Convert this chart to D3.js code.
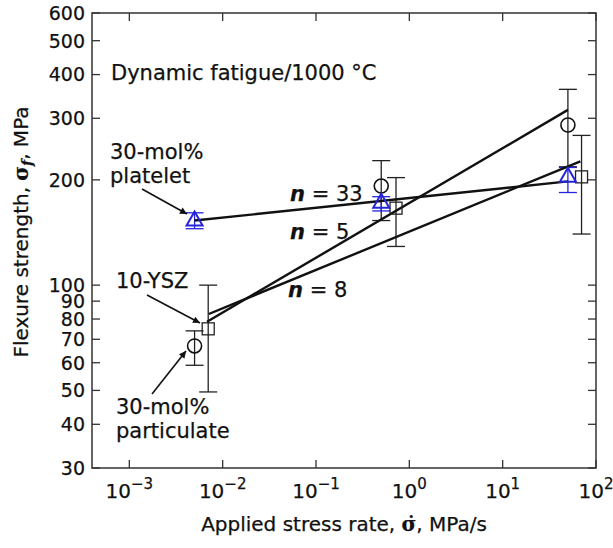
<!DOCTYPE html>
<html>
<head>
<meta charset="utf-8">
<script src="https://cdn.jsdelivr.net/npm/d3@7"></script>
<style>
  body { margin: 0; background: #fff; }
  svg text { font-family: "DejaVu Sans", sans-serif; fill: #111; stroke: #111; stroke-width: 0.25px; }
</style>
</head>
<body>
<svg id="chart"></svg>
<script>
// axis ticks
const strengthTicks = [30, 40, 50, 60, 70, 80, 90, 100, 200, 300, 400, 500, 600];
const rateTicks = [1e-3, 1e-2, 1e-1, 1, 10, 100];
const rateExponents = ["\u22123", "\u22122", "\u22121", "0", "1", "2"];

// 30-mol% particulate (circles)
const particulateRate = [0.005, 0.5, 50];
const particulateStrength = [67, 192, 287];
const particulateLow = [59, 153, 218];
const particulateHigh = [74, 227, 363];

// 10-YSZ (squares)
const yszRate = [0.007, 0.72, 70];
const yszStrength = [75, 166, 204];
const yszLow = [49.5, 129, 140];
const yszHigh = [100, 203, 268];

// 30-mol% platelet (triangles)
const plateletRate = [0.005, 0.5, 50];
const plateletStrength = [153, 172, 204];
const plateletLow = [145, 163, 184];
const plateletHigh = [161, 179, 217];

// fitted lines, end points
const fitNames = ["n33", "n5", "n8"];
const fitRates = [[0.005, 50], [0.0068, 50], [0.0071, 68]];
const fitStrengths = [[153, 198], [78.6, 317], [82.7, 226]];

const width = 613, height = 548;
const margin = {left: 92, right: 17, top: 13, bottom: 80};
const blue = "#2424dc";

const svg = d3.select("#chart").attr("width", width).attr("height", height);

const x = d3.scaleLog().domain([Math.pow(10, -3.4), 100])
            .range([margin.left, width - margin.right]);
const y = d3.scaleLog().domain([30, 600])
            .range([height - margin.bottom, margin.top]);

// frame
svg.append("rect")
   .attr("x", x.range()[0]).attr("y", y.range()[1])
   .attr("width", x.range()[1] - x.range()[0])
   .attr("height", y.range()[0] - y.range()[1])
   .attr("fill", "none").attr("stroke", "#333").attr("stroke-width", 1.5);

// inward ticks on all four sides
const tk = 8;
svg.append("g").selectAll("line").data(strengthTicks).enter().append("line")
   .attr("x1", x.range()[0]).attr("x2", x.range()[0] + tk)
   .attr("y1", d => y(d)).attr("y2", d => y(d))
   .attr("stroke", "#333").attr("stroke-width", 1.3);
svg.append("g").selectAll("line").data(strengthTicks).enter().append("line")
   .attr("x1", x.range()[1]).attr("x2", x.range()[1] - tk)
   .attr("y1", d => y(d)).attr("y2", d => y(d))
   .attr("stroke", "#333").attr("stroke-width", 1.3);
svg.append("g").selectAll("line").data(rateTicks).enter().append("line")
   .attr("x1", d => x(d)).attr("x2", d => x(d))
   .attr("y1", y.range()[0]).attr("y2", y.range()[0] - tk)
   .attr("stroke", "#333").attr("stroke-width", 1.3);
svg.append("g").selectAll("line").data(rateTicks).enter().append("line")
   .attr("x1", d => x(d)).attr("x2", d => x(d))
   .attr("y1", y.range()[1]).attr("y2", y.range()[1] + tk)
   .attr("stroke", "#333").attr("stroke-width", 1.3);

// y tick labels
svg.append("g").selectAll("text").data(strengthTicks).enter().append("text")
   .attr("x", x.range()[0] - 7).attr("y", d => y(d)).attr("dy", "0.36em")
   .attr("text-anchor", "end").attr("font-size", 19)
   .text(d => d);

// x tick labels 10^n
const xl = svg.append("g").selectAll("text").data(rateTicks).enter().append("text")
   .attr("x", d => x(d)).attr("y", y.range()[0] + 30)
   .attr("text-anchor", "middle").attr("font-size", 20);
xl.append("tspan").text("10");
xl.append("tspan").attr("dy", -9).attr("font-size", 15).text((d, i) => rateExponents[i]);

// axis titles
const xt = svg.append("text").attr("x", (x.range()[0] + x.range()[1]) / 2).attr("y", 531)
   .attr("text-anchor", "middle").attr("font-size", 20);
xt.append("tspan").text("Applied stress rate, ");
xt.append("tspan").attr("font-family", "DejaVu Serif").attr("font-weight", "bold").text("\u03C3\u0307");
xt.append("tspan").text(", MPa/s");

const yt = svg.append("text").attr("transform", "translate(28,232) rotate(-90)")
   .attr("text-anchor", "middle").attr("font-size", 20);
yt.append("tspan").text("Flexure strength, ");
yt.append("tspan").attr("font-family", "DejaVu Serif").attr("font-weight", "bold").text("\u03C3");
yt.append("tspan").attr("font-family", "DejaVu Serif").attr("font-style", "italic").attr("font-weight", "bold")
  .attr("font-size", 14).attr("dy", 4).text("f");
yt.append("tspan").attr("dy", -4).text(", MPa");

// error bars
function errorBars(rate, low, high, color) {
  const g = svg.append("g").attr("stroke", color).attr("stroke-width", 1.3);
  const cap = 9;
  rate.forEach((r, i) => {
    g.append("line").attr("x1", x(r)).attr("x2", x(r)).attr("y1", y(low[i])).attr("y2", y(high[i]));
    g.append("line").attr("x1", x(r) - cap).attr("x2", x(r) + cap).attr("y1", y(low[i])).attr("y2", y(low[i]));
    g.append("line").attr("x1", x(r) - cap).attr("x2", x(r) + cap).attr("y1", y(high[i])).attr("y2", y(high[i]));
  });
}
errorBars(particulateRate, particulateLow, particulateHigh, "#222");
errorBars(yszRate, yszLow, yszHigh, "#222");
errorBars(plateletRate, plateletLow, plateletHigh, blue);

// fitted lines
fitNames.forEach((n, i) => {
  svg.append("line").attr("class", n)
     .attr("x1", x(fitRates[i][0])).attr("y1", y(fitStrengths[i][0]))
     .attr("x2", x(fitRates[i][1])).attr("y2", y(fitStrengths[i][1]))
     .attr("stroke", "#111").attr("stroke-width", 2.4);
});

// markers
svg.append("g").selectAll("circle").data(particulateRate).enter().append("circle")
   .attr("cx", d => x(d)).attr("cy", (d, i) => y(particulateStrength[i])).attr("r", 7)
   .attr("fill", "none").attr("stroke", "#111").attr("stroke-width", 1.6);
svg.append("g").selectAll("rect").data(yszRate).enter().append("rect")
   .attr("x", d => x(d) - 6).attr("y", (d, i) => y(yszStrength[i]) - 6)
   .attr("width", 12).attr("height", 12)
   .attr("fill", "none").attr("stroke", "#222").attr("stroke-width", 1.3);
svg.append("g").selectAll("path").data(plateletRate).enter().append("path")
   .attr("d", (d, i) => {
     const cx = x(d), cy = y(plateletStrength[i]);
     return `M${cx},${cy - 9}L${cx + 8},${cy + 5}L${cx - 8},${cy + 5}Z`;
   })
   .attr("fill", "none").attr("stroke", blue).attr("stroke-width", 2);

// annotations
svg.append("defs").append("marker").attr("id", "arr")
   .attr("viewBox", "0 0 10 10").attr("refX", 10).attr("refY", 5)
   .attr("markerWidth", 11).attr("markerHeight", 7).attr("markerUnits", "userSpaceOnUse")
   .attr("orient", "auto")
   .append("path").attr("d", "M0,0L10,5L0,10Z").attr("fill", "#111");

function note(lines, tx, ty, lineH) {
  const t = svg.append("text").attr("font-size", 21);
  lines.forEach((s, i) => t.append("tspan").attr("x", tx).attr("y", ty + i * lineH).text(s));
}
function arrow(x1, y1, x2, y2) {
  svg.append("line").attr("x1", x1).attr("y1", y1).attr("x2", x2).attr("y2", y2)
     .attr("stroke", "#111").attr("stroke-width", 1.6).attr("marker-end", "url(#arr)");
}

note(["Dynamic fatigue/1000 \u00B0C"], 111, 80, 0);
note(["30-mol%", "platelet"], 110, 159, 24);
arrow(142, 189, 187, 214);
note(["10-YSZ"], 116, 288, 0);
arrow(147, 295, 200, 323);
note(["30-mol%", "particulate"], 116, 414, 24);
arrow(152, 394, 186, 351);

function nLabel(val, tx, ty) {
  const t = svg.append("text").attr("x", tx).attr("y", ty).attr("font-size", 21);
  t.append("tspan").attr("font-weight", "bold").attr("font-style", "italic").text("n");
  t.append("tspan").text(" = " + val);
}
nLabel(33, 290, 201);
nLabel(5, 290, 239);
nLabel(8, 288, 297);
</script>
</body>
</html>
